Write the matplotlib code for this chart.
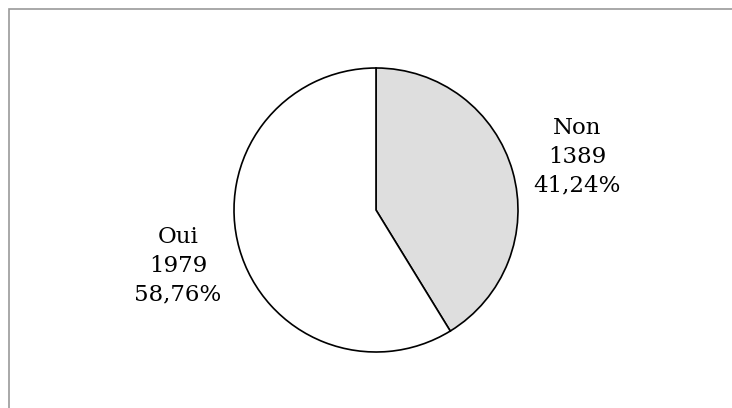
import matplotlib
matplotlib.use("Agg")
import matplotlib.pyplot as plt
from matplotlib.patches import Rectangle
import numpy as np

categories = ["Non", "Oui"]
values = [1389, 1979]
colors = ["#dedede", "#ffffff"]

W, H = 732, 408
fig = plt.figure(figsize=(W / 100, H / 100), dpi=100)

# outer frame (only top/left visible in reference)
fig.add_artist(Rectangle((8.5 / W, -0.1), 1.2, (H - 8.5) / H + 0.1, transform=fig.transFigure,
                         fill=False, edgecolor="#999999", linewidth=1.2))

cx, cy, r = 376, 210, 142
ax = fig.add_axes([(cx - r) / W, (H - cy - r) / H, 2 * r / W, 2 * r / H])

wedges, _ = ax.pie(values, colors=colors, startangle=90, counterclock=False,
                   radius=1, wedgeprops=dict(edgecolor="black", linewidth=1.2))
for w in wedges:
    w.set_clip_on(False)
ax.set_xlim(-1, 1)
ax.set_ylim(-1, 1)
ax.set_aspect("equal")
ax.axis("off")

total = sum(values)
offsets = [(0.02, -0.02), (0.0, 0.0)]
for w, cat, v, (ox, oy) in zip(wedges, categories, values, offsets):
    ang = np.deg2rad((w.theta1 + w.theta2) / 2)
    d = 1.45
    pct = f"{v / total * 100:.2f}".replace(".", ",") + "%"
    ax.text(d * np.cos(ang) + ox, d * np.sin(ang) + oy, f"{cat}\n{v}\n{pct}",
            ha="center", va="center", fontsize=16.5, family="DejaVu Serif",
            linespacing=1.4, clip_on=False)

fig.savefig("out.png", dpi=100, facecolor="white")
